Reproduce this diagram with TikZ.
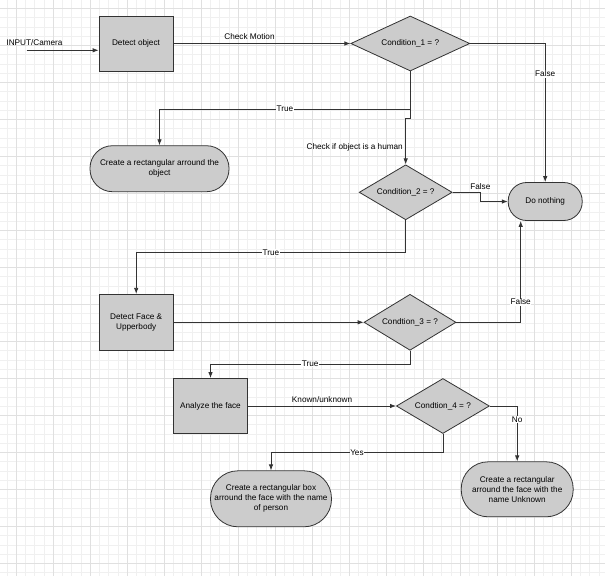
\documentclass[tikz,border=0pt]{standalone}
\usepackage{fontspec}
\setmainfont{Liberation Sans}
\usetikzlibrary{calc}
\usetikzlibrary{shapes.geometric}
\usetikzlibrary{arrows.meta}
\definecolor{ChartLine}{HTML}{333333}
\definecolor{ChartFill}{HTML}{CCCCCC}
\definecolor{GridMajor}{HTML}{E0E0E0}
\definecolor{GridMinor}{HTML}{F0F0F0}
\tikzstyle{process} = [rectangle, draw=ChartLine, fill=ChartFill, line width=0.8pt, minimum width=74pt, minimum height=55pt, inner sep=1pt, align=center]
\tikzstyle{decision} = [diamond, aspect=2, draw=ChartLine, fill=ChartFill, line width=0.8pt, inner sep=0pt, minimum width=93pt, minimum height=55pt, align=center]
\tikzstyle{terminal} = [rectangle, rounded corners=#1, draw=ChartLine, fill=ChartFill, line width=0.8pt, inner sep=1pt, align=center]
\tikzstyle{flow} = [draw=ChartLine, line width=0.8pt, -{Latex[length=6pt,width=4.5pt]}]
\tikzstyle{tag} = [fill=white, inner sep=0.5pt]

\begin{document}
\begin{tikzpicture}[x=1pt, y=-1pt, font=\fontsize{8.2}{10}\selectfont]

	\useasboundingbox (0,0) rectangle (605,576);
	\fill[white] (0,0) rectangle (605,576);
	% Grid lines
	\foreach \i in {-1,...,64}
		\draw[GridMinor, line width=0.5pt] (16+9.25*\i,0) -- (16+9.25*\i,576);
	\foreach \i in {0,...,62}
		\draw[GridMinor, line width=0.5pt] (0,8.3+9.25*\i) -- (605,8.3+9.25*\i);
	\foreach \i in {0,...,16}
		\draw[GridMajor, line width=0.7pt] (16+37*\i,0) -- (16+37*\i,576);
	\foreach \i in {0,...,15}
		\draw[GridMajor, line width=0.7pt] (0,8.3+37*\i) -- (605,8.3+37*\i);

	% Process boxes
	\node[process] (det) at (136,43.5) {Detect object};
	\node[process, minimum height=56pt] (face) at (136.2,322.3) {Detect Face \&\\Upperbody};
	\node[process, minimum width=74.5pt] (ana) at (210.5,406) {Analyze the face};
	% Decisions
	\node[decision, minimum width=119pt] (c1) at (410.3,43.5) {Condition\_1 = ?};
	\node[decision] (c2) at (405.7,192.3) {Condition\_2 = ?};
	\node[decision, minimum width=92pt, minimum height=56pt] (c3) at (410,322.3) {Condtion\_3 = ?};
	\node[decision] (c4) at (442.9,406) {Condtion\_4 = ?};
	% Terminals
	\node[terminal=22.5pt, minimum width=139pt, minimum height=46pt] (obj) at (159.5,168.7) {Create a rectangular arround the\\object};
	\node[terminal=18.5pt, minimum width=74pt, minimum height=38pt] (dn) at (545.2,201.5) {Do nothing};
	\node[terminal=27.5pt, minimum width=121pt, minimum height=56pt] (per) at (271,498.8) {Create a rectangular box\\arround the face with the name\\of person};
	\node[terminal=27pt, minimum width=112pt, minimum height=55pt] (unk) at (517.2,489.3) {Create a rectangular\\arround the face with the\\name Unknown};

	% Input
	\coordinate (cam) at (26.7,50.3);
	\node (camtxt) at (34.5,42.7) {INPUT/Camera};
	\draw[flow] (cam) -- (cam -| det.west);

	% Connectors
	\draw[flow] (det) -- node[pos=0.43, above, inner sep=3.5pt]{Check Motion} (c1);
	\draw[flow] (c1.east) -| node[pos=0.61, tag]{False} (dn.north);
	\draw[flow] (c1.south) -- ++(0,37.7) -| node[pos=0.25, tag]{True} (obj.north);
	\coordinate (jog) at ($(c2.north)+(0,-46.4)$);
	\draw[flow] (c1.south) |- (jog) -- node[pos=0.63, left, inner sep=2.5pt]{Check if object is a human} (c2.north);
	\draw[flow] (c2.east) -- ++(27.7,0) |- node[pos=0, above, inner sep=2pt]{False} (dn.west);
	\draw[flow] (c2.south) -- ++(0,32.3) -| node[pos=0.25, tag]{True} (face.north);
	\draw[flow] (face) -- (c3);
	\draw[flow] (c3.east) -| node[pos=0.6, tag]{False} ($(dn.south)+(-24.5,0)$);
	\draw[flow] (c3.south) -- ++(0,13.4) -| node[pos=0.25, tag]{True} (ana.north);
	\draw[flow] (ana) -- node[above, inner sep=3pt]{Known/unknown} (c4);
	\draw[flow] (c4.east) -| node[pos=0.62, tag]{No} (unk.north);
	\draw[flow] (c4.south) -- ++(0,18.7) -| node[pos=0.25, tag]{Yes} (per.north);

\end{tikzpicture}
\end{document}
